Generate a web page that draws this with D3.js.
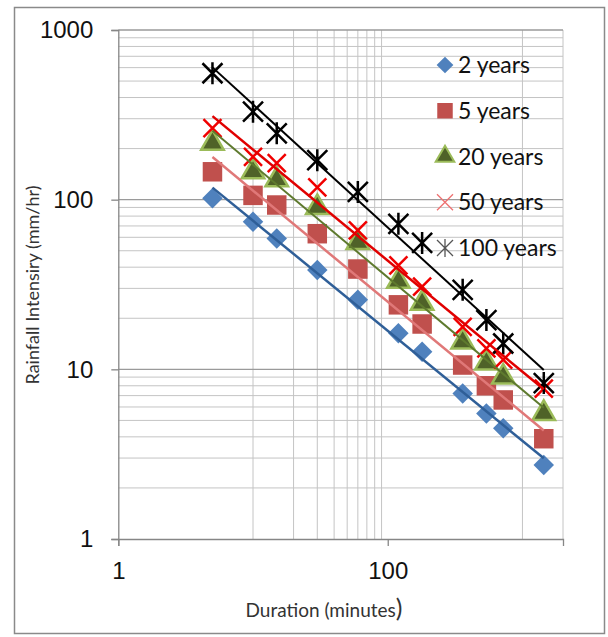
<!DOCTYPE html>
<html>
<head>
<meta charset="utf-8">
<script src="https://cdn.jsdelivr.net/npm/d3@7"></script>
<style>
body { margin: 0; background: #fff; }
</style>
</head>
<body>
<script>
// durations (minutes) and intensities (mm/hr)
var durations = [5, 10, 15, 30, 60, 120, 180, 360, 540, 720, 1440];
var years2   = [102, 74, 59, 38.5, 25.7, 16.3, 12.7, 7.2, 5.5, 4.5, 2.73];
var years5   = [146, 106, 93, 63, 39, 24, 18.5, 10.6, 8.0, 6.6, 3.9];
var years20  = [215, 146, 131, 90, 56, 33, 24.5, 14.5, 10.9, 9.0, 5.5];
var years50  = [264, 179, 164, 118, 66, 41, 30.7, 17.8, 13.3, 11.4, 7.7];
var years100 = [556, 330, 246, 171, 111, 72, 55.6, 29.4, 19.5, 14.2, 8.3];
var seriesNames = ['2 years', '5 years', '20 years', '50 years', '100 years'];

var yTicks = [1, 10, 100, 1000];
var xTicks = [1, 100];
var yMinor = [2, 3, 4, 5, 6, 7, 8, 9, 20, 30, 40, 50, 60, 70, 80, 90, 200, 300, 400, 500, 600, 700, 800, 900];
var yMajor = [10, 100, 1000];
var xMinor = [10, 20, 30, 40, 50, 60, 70, 80, 90, 1000, 2000];

function plot_it() {
    var svg_width = 608, svg_height = 637;
    var left = 118.3, right = 563, top = 30, bottom = 539;

    var x = d3.scaleLog().domain([1, 2000]).range([left, right]);
    var y = d3.scaleLog().domain([1, 1000]).range([bottom, top]);

    var svg = d3.select('body').append('svg').attr('width', svg_width).attr('height', svg_height);

    // outer chart frame
    svg.append('rect').attr('x', 14.5).attr('y', 7.5).attr('width', 590).attr('height', 626)
        .attr('fill', 'none').attr('stroke', '#8a8a8a').attr('stroke-width', 1.5);

    // gridlines
    var grid = svg.append('g');
    grid.selectAll('hminor').data(yMinor).enter().append('line')
        .attr('x1', left).attr('x2', right).attr('y1', d => y(d)).attr('y2', d => y(d))
        .attr('stroke', '#c4c4c4').attr('stroke-width', 1);
    grid.selectAll('vminor').data(xMinor).enter().append('line')
        .attr('x1', d => x(d)).attr('x2', d => x(d)).attr('y1', top).attr('y2', bottom)
        .attr('stroke', '#c4c4c4').attr('stroke-width', 1);
    grid.selectAll('hmajor').data(yMajor).enter().append('line')
        .attr('x1', left).attr('x2', right).attr('y1', d => y(d)).attr('y2', d => y(d))
        .attr('stroke', '#9a9a9a').attr('stroke-width', 1.3);

    // axes
    var yAxis = svg.append('g').attr('transform', 'translate(' + left + ',0)')
        .call(d3.axisLeft(y).tickValues(yTicks).tickSize(7).tickPadding(18).tickFormat(d3.format('d')));
    var xAxis = svg.append('g').attr('transform', 'translate(0,' + bottom + ')')
        .call(d3.axisBottom(x).tickValues(xTicks).tickSize(7).tickPadding(16).tickFormat(d3.format('d')));
    [yAxis, xAxis].forEach(a => {
        a.select('.domain').attr('stroke', '#868686').attr('stroke-width', 1.3);
        a.selectAll('.tick line').attr('stroke', '#868686').attr('stroke-width', 1.3);
        a.selectAll('.tick text').attr('font-family', 'Liberation Sans, Arial, sans-serif')
            .attr('font-size', 24).attr('fill', '#111');
    });

    // axis titles
    svg.append('text').attr('transform', 'translate(39,285) rotate(-90)')
        .attr('text-anchor', 'middle').attr('font-family', 'Lato, Carlito, sans-serif')
        .attr('font-size', 18).attr('fill', '#333').text('Rainfall Intensiry (mm/hr)');
    var xt = svg.append('text').attr('x', 324).attr('y', 617)
        .attr('text-anchor', 'middle').attr('font-family', 'Lato, Carlito, sans-serif')
        .attr('font-size', 19).attr('fill', '#333');
    xt.append('tspan').text('Duration (minutes');
    xt.append('tspan').attr('font-size', 25).text(')');

    // series
    var allSeries = [years2, years5, years20, years50, years100];
    var markerStyles = [
        {path: d3.symbol().type(d3.symbolSquare).size(210)(), rotate: 45, fill: '#4F81BD', stroke: 'none', sw: 0, line: '#2F5F98', lw: 2.5},
        {path: d3.symbol().type(d3.symbolSquare).size(380)(), rotate: 0, fill: '#C0504D', stroke: 'none', sw: 0, line: '#E07878', lw: 2.5},
        {path: d3.symbol().type(d3.symbolTriangle).size(220)(), rotate: 0, fill: '#4F6228', stroke: '#9BBB59', sw: 2.5, line: '#5E7A2E', lw: 2},
        {path: 'M-9,-9L9,9M-9,9L9,-9', rotate: 0, fill: 'none', stroke: '#F00000', sw: 2.5, line: '#E00000', lw: 2.5},
        {path: 'M-10,-10L10,10M-10,10L10,-10M0,-11L0,11', rotate: 0, fill: 'none', stroke: '#000', sw: 2.5, line: '#000', lw: 2}
    ];

    allSeries.forEach((vals, s) => {
        var st = markerStyles[s];
        svg.append('g').selectAll('pt').data(vals).enter().append('path')
            .attr('d', st.path)
            .attr('transform', (d, i) => 'translate(' + x(durations[i]) + ',' + y(d) + ') rotate(' + st.rotate + ')')
            .attr('fill', st.fill).attr('stroke', st.stroke).attr('stroke-width', st.sw);
    });

    // power trendlines, least squares in log-log space
    allSeries.forEach((vals, s) => {
        var lx = durations.map(Math.log), ly = vals.map(Math.log);
        var mx = d3.mean(lx), my = d3.mean(ly);
        var b = d3.sum(lx, (v, i) => (v - mx) * (ly[i] - my)) / d3.sum(lx, v => (v - mx) * (v - mx));
        var a = my - b * mx;
        var ends = d3.extent(durations).map(t => [t, Math.exp(a + b * Math.log(t))]);
        svg.append('path').datum(ends)
            .attr('d', d3.line().x(d => x(d[0])).y(d => y(d[1])))
            .attr('fill', 'none').attr('stroke', markerStyles[s].line).attr('stroke-width', markerStyles[s].lw);
    });

    // legend
    var legendMarks = [
        {path: d3.symbol().type(d3.symbolSquare).size(140)(), rotate: 45, fill: '#4F81BD', stroke: 'none', sw: 0},
        {path: d3.symbol().type(d3.symbolSquare).size(240)(), rotate: 0, fill: '#C0504D', stroke: 'none', sw: 0},
        {path: d3.symbol().type(d3.symbolTriangle).size(150)(), rotate: 0, fill: '#4F6228', stroke: '#9BBB59', sw: 2},
        {path: 'M-8,-8L8,8M-8,8L8,-8', rotate: 0, fill: 'none', stroke: '#EE7070', sw: 1.3},
        {path: 'M-8,-8L8,8M-8,8L8,-8M0,-9L0,9', rotate: 0, fill: 'none', stroke: '#555', sw: 1.3}
    ];
    var legendY = d3.scalePoint().domain(seriesNames).range([65, 248]);
    var lg = svg.append('g').selectAll('lg').data(seriesNames).enter().append('g')
        .attr('transform', d => 'translate(445,' + legendY(d) + ')');
    lg.append('path').attr('d', (d, i) => legendMarks[i].path)
        .attr('transform', (d, i) => 'rotate(' + legendMarks[i].rotate + ')')
        .attr('fill', (d, i) => legendMarks[i].fill).attr('stroke', (d, i) => legendMarks[i].stroke)
        .attr('stroke-width', (d, i) => legendMarks[i].sw);
    lg.append('text').attr('x', 13).attr('dy', '0.35em')
        .attr('font-family', 'Lato, Carlito, sans-serif').attr('font-size', 23).attr('fill', '#111')
        .text(d => d);
}
plot_it();
</script>
</body>
</html>
